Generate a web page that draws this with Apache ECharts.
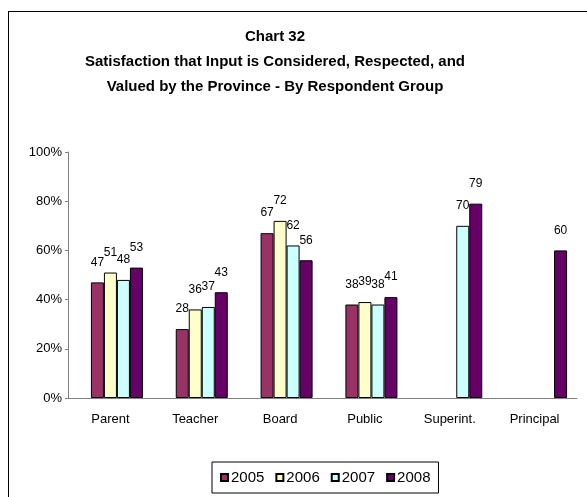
<!DOCTYPE html>
<html>
<head>
<meta charset="utf-8">
<script src="https://cdn.jsdelivr.net/npm/echarts@6/dist/echarts.min.js"></script>
<style>
  html, body { margin: 0; padding: 0; background: #fff; overflow: hidden; }
  #frame { position: absolute; left: 8px; top: 11px; width: 700px; height: 600px;
           border-left: 1px solid #000; border-top: 1px solid #000; }
  #chart { position: absolute; left: 0; top: 0; width: 587px; height: 497px; }
</style>
</head>
<body>
<div id="frame"></div>
<div id="chart"></div>
<script>
var groups = ['Parent', 'Teacher', 'Board', 'Public', 'Superint.', 'Principal'];
var years = ['2005', '2006', '2007', '2008'];
var colors = ['#993366', '#FFFFCC', '#CCFFFF', '#660066'];

// percent satisfied, '-' = no data for that year
var v2005 = [47, 28, 67, 38, '-', '-'];
var v2006 = [51, 36, 72, 39, '-', '-'];
var v2007 = [48, 37, 62, 38, 70, '-'];
var v2008 = [53, 43, 56, 41, 79, 60];

var yTicks = [0, 20, 40, 60, 80, 100];

var font = 'Liberation Sans, Arial, sans-serif';
var values = [v2005, v2006, v2007, v2008];

var series = [
  // empty slot so the groups sit a little right of the category centre, as in the original
  { name: 'gap', type: 'bar', data: [], barWidth: 13, barGap: '0%', silent: true }
];
for (var i = 0; i < years.length; i++) {
  series.push({
    name: years[i],
    type: 'bar',
    data: values[i],
    barWidth: 13,
    barGap: '0%',
    itemStyle: { color: colors[i], borderColor: '#000', borderWidth: 1 },
    label: {
      show: true,
      position: 'top',
      distance: 14,
      color: '#000',
      fontFamily: font,
      fontSize: 12
    }
  });
}

var option = {
  animation: false,
  title: {
    text: 'Chart 32\nSatisfaction that Input is Considered, Respected, and\nValued by the Province - By Respondent Group',
    left: 270,
    top: 19,
    textAlign: 'center',
    textStyle: {
      fontFamily: font,
      fontWeight: 'bold',
      fontSize: 15,
      lineHeight: 25,
      color: '#000'
    }
  },
  legend: {
    data: years,
    left: 212,
    top: 462,
    padding: [8, 8, 8, 8],
    itemWidth: 7,
    itemHeight: 7,
    itemGap: 11,
    icon: 'rect',
    borderColor: '#000',
    borderWidth: 1,
    textStyle: { fontFamily: font, fontSize: 15, color: '#000', padding: [0, 0, 0, -2] }
  },
  grid: { left: 68, right: 10, top: 152, bottom: 99 },
  xAxis: {
    type: 'category',
    data: groups,
    axisLine: { lineStyle: { color: '#808080', width: 1 } },
    axisTick: { length: 4, lineStyle: { color: '#808080' } },
    axisLabel: { color: '#000', fontFamily: font, fontSize: 13, margin: 15 }
  },
  yAxis: {
    type: 'value',
    min: 0,
    max: 100,
    interval: 20,
    axisLine: { show: true, lineStyle: { color: '#808080', width: 1 } },
    axisTick: { show: true, length: 3, lineStyle: { color: '#808080' } },
    splitLine: { show: false },
    axisLabel: {
      color: '#000', fontFamily: font, fontSize: 13, margin: 6,
      formatter: function (v) { return yTicks.indexOf(v) >= 0 ? v + '%' : ''; }
    }
  },
  series: series
};

var chart = echarts.init(document.getElementById('chart'));
chart.setOption(option);
</script>
</body>
</html>
